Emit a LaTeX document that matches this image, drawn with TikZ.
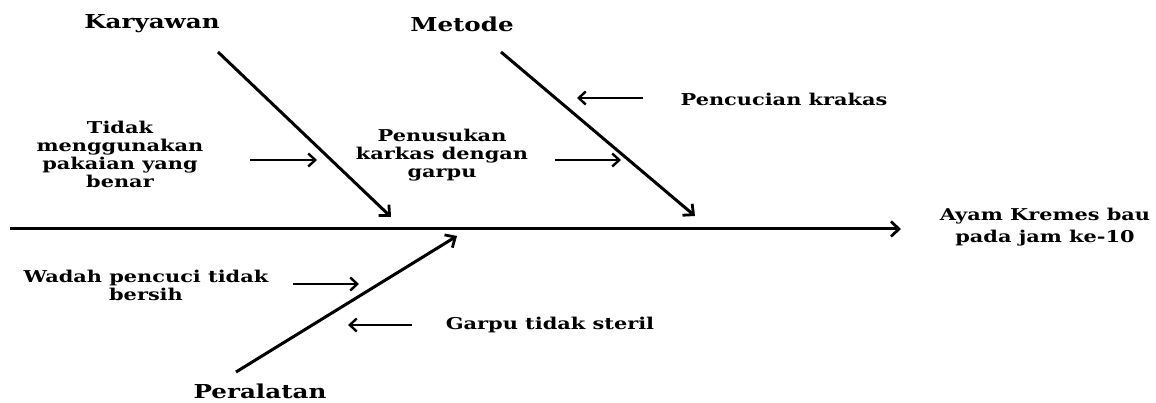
\documentclass[tikz,border=0pt]{standalone}
\usepackage{fontspec}
\setmainfont{DejaVu Serif}[FakeStretch=1.28]
\usetikzlibrary{arrows.meta}
\begin{document}
\begin{tikzpicture}[x=1pt,y=-1pt,
  cat/.style={font=\fontsize{19.2}{24}\selectfont\bfseries, inner sep=0pt},
  cause/.style={font=\fontsize{16.3}{18}\selectfont\bfseries, inner sep=0pt, align=center},
  bone/.style={line width=3pt, -{Straight Barb[length=8pt,width=15pt,line width=2.8pt]}},
  ar/.style={line width=2.5pt, -{Straight Barb[length=7pt,width=13pt,line width=2.4pt]}}]
\useasboundingbox (0,0) rectangle (1156,403);
% categories
\node[cat] (kar) at (152,24) {Karyawan};
\node[cat] (met) at (462,24) {Metode};
\node[cat] (per) at (260,391) {Peralatan};
\node[cause, font=\fontsize{16.3}{22}\selectfont\bfseries] (eff) at (1045,227) {Ayam Kremes bau\\pada jam ke-10};
% spine
\coordinate (s0) at (10,229);
\coordinate (s1) at (901,229);
\draw[bone] (s0) -- (s1);
% bones
\coordinate (k0) at (218,52); \coordinate (k1) at (391,217);
\coordinate (m0) at (501,52); \coordinate (m1) at (695,216);
\coordinate (p0) at (236,372); \coordinate (p1) at (457,236);
\draw[bone] (k0) -- (k1);
\draw[bone] (m0) -- (m1);
\draw[bone] (p0) -- (p1);
% causes
\node[cause] (c1) at (120,154) {Tidak\\menggunakan\\pakaian yang\\benar};
\node[cause] (c2) at (442,155) {Penusukan\\karkas dengan\\garpu};
\node[cause] (c3) at (784,99) {Pencucian krakas};
\node[cause] (c4) at (146,285) {Wadah pencuci tidak\\bersih};
\node[cause] (c5) at (550,325) {Garpu tidak steril};
\coordinate (a1s) at (250,160); \coordinate (a1e) at (317,160);
\coordinate (a2s) at (555,160); \coordinate (a2e) at (621,160);
\coordinate (a3s) at (643,98); \coordinate (a3e) at (577,98);
\coordinate (a4s) at (293,284); \coordinate (a4e) at (359,284);
\coordinate (a5s) at (412,325); \coordinate (a5e) at (348,325);
\draw[ar] (a1s) -- (a1e);
\draw[ar] (a2s) -- (a2e);
\draw[ar] (a3s) -- (a3e);
\draw[ar] (a4s) -- (a4e);
\draw[ar] (a5s) -- (a5e);
\end{tikzpicture}
\end{document}
